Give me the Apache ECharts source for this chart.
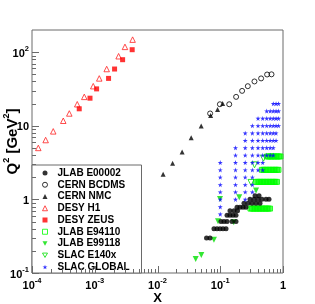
<!DOCTYPE html>
<html><head><meta charset="utf-8">
<script src="https://cdn.jsdelivr.net/npm/echarts@6/dist/echarts.min.js"></script>
<style>html,body{margin:0;padding:0;background:#fff}#c{width:315px;height:304px}</style>
</head><body><div id="c"></div>
<script>
const FONT = "'Liberation Sans', Arial, Helvetica, sans-serif";

// ---- axis ticks ----
const xMajorTicks = [0.0001, 0.001, 0.01, 0.1, 1];
const yMajorTicks = [0.1, 1, 10, 100];
const xMinorTicks = [0.0002,0.0003,0.0004,0.0005,0.0006,0.0007,0.0008,0.0009,
  0.002,0.003,0.004,0.005,0.006,0.007,0.008,0.009,
  0.02,0.03,0.04,0.05,0.06,0.07,0.08,0.09,
  0.2,0.3,0.4,0.5,0.6,0.7,0.8,0.9];
const yMinorTicks = [0.2,0.3,0.4,0.5,0.6,0.7,0.8,0.9,
  2,3,4,5,6,7,8,9, 20,30,40,50,60,70,80,90];

// ---- data ----
const e00002X = [0.0604,0.0687,
  0.0794,0.0887,0.0991,0.1107,0.1237,
  0.1028,0.1148,0.1283,0.1538,0.1782,
  0.1283,0.1429,0.1596,0.1782,
  0.1429,0.1656,0.1884,
  0.1849,0.2065,0.2307,0.2572,
  0.2388,0.2767,0.3206,0.3715,0.4300,
  0.2979,0.3451,0.3999,0.4624,0.5358,0.5984,
  0.3581,0.4150];
const e00002Q2 = [0.299,0.299,
  0.399,0.399,0.399,0.399,0.399,
  0.501,0.501,0.501,0.501,0.501,
  0.610,0.610,0.610,0.610,
  0.702,0.702,0.702,
  0.782,0.782,0.782,0.782,
  0.885,0.885,0.885,0.885,0.885,
  1.004,1.004,1.004,1.004,1.004,1.004,
  1.12,1.12];

const bcdmsX = [0.656,0.558,0.448,0.351,0.275,0.223,0.179,0.139,0.0987,0.069];
const bcdmsQ2 = [50,49.7,44,40,34.5,29.8,24.7,19.6,19.6,14.7];

const nmcX = [0.109,0.0906,0.0702,0.0497,0.0344,0.0247,0.0174,0.0123];
const nmcQ2 = [20.1,16.6,13.8,9.9,6.9,4.4,3.1,2.2];

const h1X = [0.00401,0.00303,0.0024,0.00155,0.00118,0.000946,0.000681,0.000526,0.000393,0.000315,0.000218,0.000165,0.000126];
const h1Q2 = [148,118,88,59,44,34.5,24.7,19.6,14.7,11.7,8.4,6.4,5.0];

const zeusX = [0.00395,0.00278,0.00207,0.00166,0.00107,0.00084,0.000566];
const zeusQ2 = [108,79,59,44,31.7,23.7,17];

const e94110X = [0.556,0.587,0.621,0.656,0.693,0.733,0.773,0.817,0.863,0.912,
  0.462,0.489,0.516,0.546,0.577,0.610,0.644,0.681,0.720,0.759,0.802,0.847,
  0.372,0.393,0.415,0.438,0.462,0.489,0.516,0.546,0.577,0.610,0.644,0.681,0.720,0.759,0.802,
  0.303,0.321,0.339,0.358,0.379,0.400,0.422,0.446,0.471,0.497,0.526,0.556,0.587,0.621];
const e94110Q2 = [3.83,3.83,3.83,3.83,3.83,3.83,3.83,3.83,3.83,3.83,
  2.52,2.52,2.52,2.52,2.52,2.52,2.52,2.52,2.52,2.52,2.52,2.52,
  1.73,1.73,1.73,1.73,1.73,1.73,1.73,1.73,1.73,1.73,1.73,1.73,1.73,1.73,1.73,
  0.75,0.75,0.75,0.75,0.75,0.75,0.75,0.75,0.75,0.75,0.75,0.75,0.75,0.75];

const e99118X = [0.0406,0.0499,0.0794,0.092,0.164,0.099,0.201,0.372];
const e99118Q2 = [0.155,0.175,0.283,0.505,0.49,1.01,1.07,1.32];

const e140xX = [0.309,0.352,0.489];
const e140xQ2 = [1.70,2.95,3.62];

const slacRowQ2 = [19.95,15.85,12.59,10.0,7.94,6.31,5.01,3.98,3.16,2.51,2.0,1.58,1.26,1.0,0.79,0.63];
const slacRowX = [
  [0.7,0.775,0.85],
  [0.55,0.625,0.7,0.775,0.85],
  [0.4,0.475,0.55,0.625,0.7,0.775,0.85],
  [0.325,0.4,0.475,0.55,0.625,0.7,0.775,0.85],
  [0.25,0.325,0.4,0.475,0.55,0.625,0.7,0.775],
  [0.25,0.325,0.4,0.475,0.55,0.625,0.7,0.775],
  [0.175,0.25,0.325,0.4,0.475,0.55,0.625,0.7],
  [0.175,0.25,0.325,0.4,0.475,0.55,0.625,0.7],
  [0.1,0.175,0.25,0.325,0.4,0.475],
  [0.1,0.175,0.25,0.325,0.4,0.475],
  [0.1,0.175,0.25,0.325],
  [0.1,0.175,0.25,0.325],
  [0.1,0.175,0.25,0.325],
  [0.1,0.175,0.25],
  [0.1],
  [0.1]
];

const legendNames = ['JLAB E00002','CERN BCDMS','CERN NMC','DESY H1','DESY ZEUS','JLAB E94110','JLAB E99118','SLAC E140x','SLAC GLOBAL'];

// ---- helpers ----
const zip = (xs, ys) => xs.map((x, i) => [x, ys[i]]);
const slacData = [];
slacRowX.forEach((row, i) => row.forEach(x => slacData.push([x, slacRowQ2[i]])));

const X_MIN = 0.0001, X_MAX = 1, Y_MIN = 0.1, Y_MAX = 200;
const FRAME = '#6a6a6a';
const STAR = 'path://M50,0 L61,35 L98,35 L68,57 L79,91 L50,70 L21,91 L32,57 L2,35 L39,35 Z';
const DOWN_TRI = 'path://M0,0 L100,0 L50,87 Z';

function powLabel(v) {
  const l = Math.log10(v);
  const e = Math.round(l);
  if (Math.abs(l - e) > 1e-6) return '';
  if (e === 0) return '{b|1}';
  if (e === 1) return '{b|10}';
  return '{b|10}{s|' + e + '}';
}
const labelRich = {
  b: {fontFamily: FONT, fontWeight: 'bold', fontSize: 11, color: '#000', lineHeight: 14, verticalAlign: 'bottom'},
  s: {fontFamily: FONT, fontWeight: 'bold', fontSize: 7.5, color: '#000', lineHeight: 14, verticalAlign: 'top'}
};

function tickSeries(values, axis, len) {
  return {
    type: 'custom', silent: true, clip: false, z: 6, animation: false,
    data: values.map(v => axis === 'x' ? [v, Y_MIN] : [X_MIN, v]),
    renderItem: (params, api) => {
      const p = api.coord([api.value(0), api.value(1)]);
      if (axis === 'x') {
        const x = Math.round(p[0]) + 0.5, y = Math.round(p[1]);
        return {type: 'line', shape: {x1: x, y1: y, x2: x, y2: y - len}, style: {stroke: FRAME, lineWidth: 1}};
      } else {
        const x = Math.round(p[0]), y = Math.round(p[1]) + 0.5;
        return {type: 'line', shape: {x1: x, y1: y, x2: x + len, y2: y}, style: {stroke: FRAME, lineWidth: 1}};
      }
    }
  };
}

function scatter(name, data, symbol, size, style, extra) {
  return Object.assign({
    name, type: 'scatter', data, symbol, symbolSize: size, itemStyle: style,
    silent: true, animation: false, z: 3
  }, extra || {});
}
const hollow = c => ({color: 'rgba(0,0,0,0)', borderColor: c, borderWidth: 1});

const legendData = legendNames.map(n => n === 'JLAB E94110'
  ? {name: n, itemStyle: {color: 'rgba(0,0,0,0)', borderColor: '#00ff00', borderWidth: 1}}
  : {name: n});

const chart = echarts.init(document.getElementById('c'), null, {renderer: 'canvas'});
chart.setOption({
  animation: false,
  backgroundColor: '#fff',
  grid: {left: 32, top: 30, right: 32, bottom: 31, containLabel: false, outerBoundsMode: 'none',
    show: true, borderColor: FRAME, borderWidth: 1, backgroundColor: 'transparent'},
  xAxis: {
    type: 'log', logBase: 10, min: X_MIN, max: X_MAX,
    axisLine: {show: false}, axisTick: {show: false}, splitLine: {show: false}, minorTick: {show: false},
    axisLabel: {formatter: powLabel, rich: labelRich, margin: 4},
    name: 'X', nameLocation: 'middle', nameGap: 18.5, nameMoveOverlap: false,
    nameTextStyle: {fontFamily: FONT, fontWeight: 'bold', fontSize: 13, color: '#000'}
  },
  yAxis: {
    type: 'log', logBase: 10, min: Y_MIN, max: Y_MAX,
    axisLine: {show: false}, axisTick: {show: false}, splitLine: {show: false}, minorTick: {show: false},
    axisLabel: {formatter: powLabel, rich: labelRich, margin: 3, showMaxLabel: false}
  },
  graphic: [{
    type: 'text', x: 11.5, y: 141.5, rotation: Math.PI / 2, z: 10,
    style: {
      text: '{a|Q}{s|2}{a| [GeV}{s|2}{a|]}',
      align: 'center', verticalAlign: 'middle',
      rich: {
        a: {fontFamily: FONT, fontWeight: 'bold', fontSize: 15, fill: '#000', lineHeight: 18, verticalAlign: 'bottom'},
        s: {fontFamily: FONT, fontWeight: 'bold', fontSize: 9, fill: '#000', lineHeight: 18, verticalAlign: 'top'}
      }
    }
  }],
  legend: {
    orient: 'vertical', left: 32, top: 165,
    data: legendData,
    itemWidth: 5, itemHeight: 5, itemGap: 1.75,
    itemStyle: {borderWidth: 1},
    padding: [3, 4, 1, 10],
    backgroundColor: '#fff', borderColor: FRAME, borderWidth: 1,
    selectedMode: false,
    textStyle: {fontFamily: FONT, fontWeight: 'bold', fontSize: 10, color: '#000', lineHeight: 10, width: 80, padding: [0, 0, 0, 5]}
  },
  series: [
    scatter('JLAB E94110', zip(e94110X, e94110Q2), 'rect', 5, {color: 'rgba(0,255,0,0.55)', borderColor: '#00ff00', borderWidth: 1}),
    scatter('JLAB E99118', zip(e99118X, e99118Q2), DOWN_TRI, 6, {color: '#00e000'}),
    scatter('SLAC E140x', zip(e140xX, e140xQ2), DOWN_TRI, 6, hollow('#00e000')),
    scatter('JLAB E00002', zip(e00002X, e00002Q2), 'circle', 5, {color: '#000'}),
    scatter('CERN BCDMS', zip(bcdmsX, bcdmsQ2), 'circle', 5, hollow('#000')),
    scatter('CERN NMC', zip(nmcX, nmcQ2), 'triangle', 5, {color: '#000'}),
    scatter('DESY H1', zip(h1X, h1Q2), 'triangle', 5.5, hollow('#ff2020')),
    scatter('DESY ZEUS', zip(zeusX, zeusQ2), 'rect', 5, {color: '#ff0000'}),
    scatter('SLAC GLOBAL', slacData, STAR, 5, {color: '#0000ff'}),
    tickSeries(xMajorTicks, 'x', 7),
    tickSeries(xMinorTicks, 'x', 4),
    tickSeries(yMajorTicks, 'y', 7),
    tickSeries(yMinorTicks, 'y', 4)
  ]
});
</script></body></html>
